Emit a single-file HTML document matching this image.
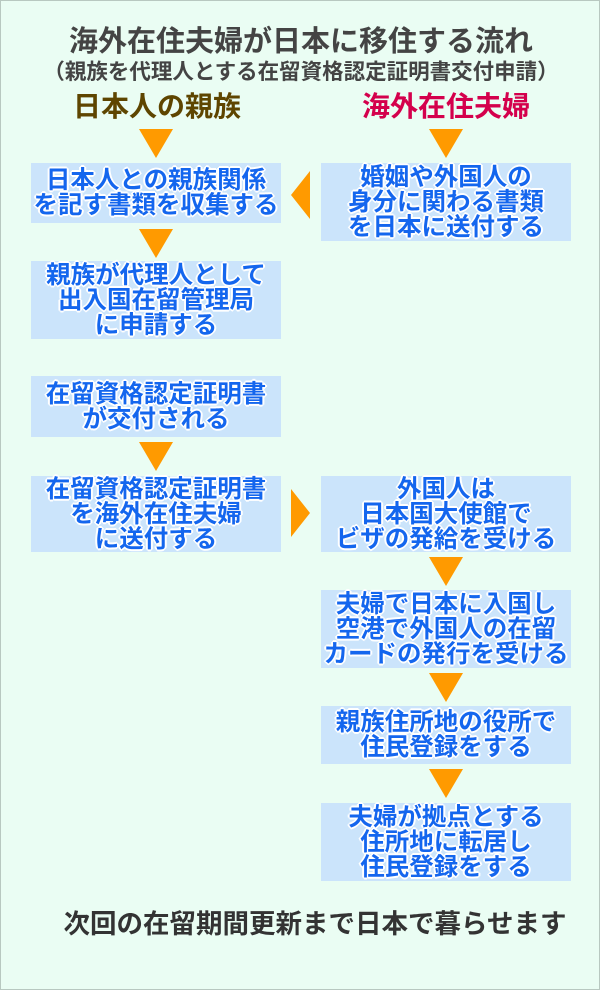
<!DOCTYPE html>
<html><head><meta charset="utf-8"><style>
body{margin:0;width:600px;height:990px;overflow:hidden;background:#eafdf3;font-family:"Liberation Sans","Noto Sans CJK JP",sans-serif;font-weight:bold;}
.wrap{position:absolute;left:0;top:0;width:598px;height:988px;border:1px solid #b8c8c0;}
.t{position:absolute;white-space:nowrap;text-align:center;}
.box{position:absolute;background:#cbe4fb;display:flex;align-items:center;justify-content:center;text-align:center;color:#1466ee;font-size:24.5px;line-height:25px;white-space:nowrap;text-shadow:2px 0 #fff,-2px 0 #fff,0 2px #fff,0 -2px #fff,1px 1px #fff,-1px -1px #fff,1px -1px #fff,-1px 1px #fff;}
.L{left:30px;width:250px}.R{left:320px;width:250px}
.down{position:absolute;width:0;height:0;border-left:17px solid transparent;border-right:17px solid transparent;border-top:29px solid #ff9a00;}
</style></head><body><div class="wrap">
<div class="t" style="left:0;width:600px;top:17px;font-size:29px;color:#444">海外在住夫婦が日本に移住する流れ</div>
<div class="t" style="left:0;width:600px;top:54px;font-size:21.5px;color:#444">（親族を代理人とする在留資格認定証明書交付申請）</div>
<div class="t" style="left:56px;width:200px;top:84px;font-size:28px;color:#5e4500">日本人の親族</div>
<div class="t" style="left:345px;width:200px;top:84px;font-size:28px;color:#d4004c">海外在住夫婦</div>
<div class="down" style="left:138px;top:128px"></div>
<div class="down" style="left:428px;top:128px"></div>
<div class="box L" style="top:162px;height:60px">日本人との親族関係<br>を記す書類を収集する</div>
<div class="box R" style="top:162px;height:78px">婚姻や外国人の<br>身分に関わる書類<br>を日本に送付する</div>
<div style="position:absolute;left:290px;top:170px;width:0;height:0;border-top:24px solid transparent;border-bottom:24px solid transparent;border-right:19px solid #ff9a00"></div>
<div class="down" style="left:138px;top:228px"></div>
<div class="box L" style="top:260px;height:78px">親族が代理人として<br>出入国在留管理局<br>に申請する</div>
<div class="box L" style="top:375px;height:61px">在留資格認定証明書<br>が交付される</div>
<div class="down" style="left:138px;top:441px"></div>
<div class="box L" style="top:475px;height:76px">在留資格認定証明書<br>を海外在住夫婦<br>に送付する</div>
<div style="position:absolute;left:290px;top:488px;width:0;height:0;border-top:24px solid transparent;border-bottom:24px solid transparent;border-left:19px solid #ff9a00"></div>
<div class="box R" style="top:475px;height:76px">外国人は<br>日本国大使館で<br>ビザの発給を受ける</div>
<div class="down" style="left:428px;top:556px"></div>
<div class="box R" style="top:589px;height:78px">夫婦で日本に入国し<br>空港で外国人の在留<br>カードの発行を受ける</div>
<div class="down" style="left:428px;top:672px"></div>
<div class="box R" style="top:705px;height:58px">親族住所地の役所で<br>住民登録をする</div>
<div class="down" style="left:428px;top:768px"></div>
<div class="box R" style="top:802px;height:78px">夫婦が拠点とする<br>住所地に転居し<br>住民登録をする</div>
<div class="t" style="left:58px;width:512px;top:901px;font-size:26.5px;color:#333">次回の在留期間更新まで日本で暮らせます</div>
</div></body></html>
